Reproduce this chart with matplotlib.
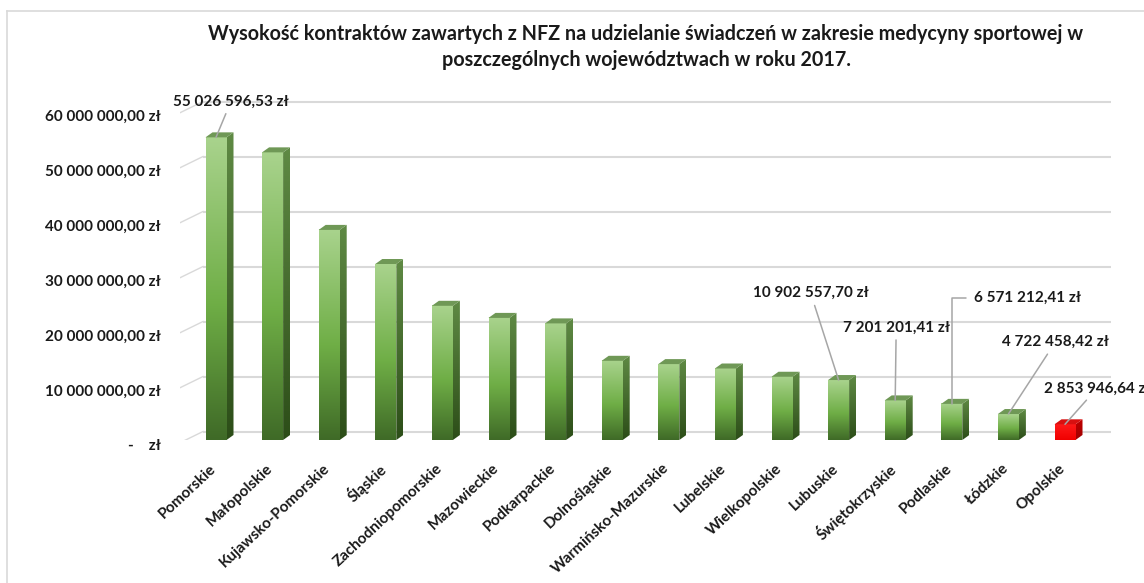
import numpy as np
import matplotlib
matplotlib.use("Agg")
import matplotlib.pyplot as plt
from matplotlib.colors import LinearSegmentedColormap
from matplotlib.patches import Polygon
from matplotlib.lines import Line2D
import matplotlib.transforms as mtransforms

plt.rcParams['font.family'] = ['Lato', 'DejaVu Sans']

title = ("Wysokość kontraktów zawartych z NFZ na udzielanie świadczeń w zakresie medycyny sportowej w\n"
         "poszczególnych województwach w roku 2017.")

regions = ["Pomorskie", "Małopolskie", "Kujawsko-Pomorskie", "Śląskie", "Zachodniopomorskie",
           "Mazowieckie", "Podkarpackie", "Dolnośląskie", "Warmińsko-Mazurskie", "Lubelskie",
           "Wielkopolskie", "Lubuskie", "Świętokrzyskie", "Podlaskie", "Łódzkie", "Opolskie"]
values = [55026596.53, 52300000, 38200000, 32000000, 24400000,
          22200000, 21200000, 14400000, 13800000, 13000000,
          11500000, 10902557.70, 7201201.41, 6571212.41, 4722458.42, 2853946.64]
yticks = [0, 10e6, 20e6, 30e6, 40e6, 50e6, 60e6]
labelled = {0: "55 026 596,53 zł", 11: "10 902 557,70 zł", 12: "7 201 201,41 zł",
            13: "6 571 212,41 zł", 14: "4 722 458,42 zł", 15: "2 853 946,64 zł"}

W, H = 1144, 583
fig = plt.figure(figsize=(W / 100, H / 100), dpi=100)
ax_l, ax_r, ax_b, ax_t = 180, 1111, 440, 90
ax = fig.add_axes([ax_l / W, (H - ax_b) / H, (ax_r - ax_l) / W, (ax_b - ax_t) / H])

px_cat = 56.6
c0 = 216
px_val = 5.5 / 1e6
xlim = ((ax_l - c0) / px_cat, (ax_r - c0) / px_cat)
ylim = (0, (ax_b - ax_t) / px_val)

# depth offsets
wall_dx, wall_dy = 23 / px_cat, 8.5 / px_val
bar_dx, bar_dy = 7 / px_cat, 5 / px_val
bw = 21 / px_cat

txt = '#1a1a1a'
gridc = '#d9d9d9'

# back-wall gridlines + diagonal side-wall ticks
for v in yticks:
    ax.plot([xlim[0] + wall_dx, xlim[1]], [v + wall_dy, v + wall_dy], color=gridc, lw=1.5, zorder=1,
            solid_capstyle='butt')
    ax.plot([xlim[0], xlim[0] + wall_dx], [v - 0.5e6, v + wall_dy], color=gridc, lw=1.0, zorder=1)

front_g = LinearSegmentedColormap.from_list('fg', [(0, '#3f6a27'), (0.45, '#6fae46'), (1, '#a9d38d')])
side_g = LinearSegmentedColormap.from_list('sg', [(0, '#2c4d18'), (1, '#5f8a44')])
red_front = LinearSegmentedColormap.from_list('rf', [(0, '#f00000'), (1, '#ff1a1a')])
red_side = LinearSegmentedColormap.from_list('rs', [(0, '#a00000'), (1, '#c00000')])

grad = np.linspace(0, 1, 256).reshape(-1, 1)
for i, v in enumerate(values):
    red = (i == len(values) - 1)
    x0, x1 = i - bw / 2, i + bw / 2
    z = 3 + i * 0.01
    ax.imshow(grad, extent=(x0, x1, 0, v), origin='lower', aspect='auto',
              cmap=red_front if red else front_g, interpolation='bicubic', zorder=z)
    side = Polygon([(x1, 0), (x1 + bar_dx, bar_dy), (x1 + bar_dx, v + bar_dy), (x1, v)],
                   closed=True, fc='none', ec='none', zorder=z)
    ax.add_patch(side)
    im = ax.imshow(grad, extent=(x1, x1 + bar_dx, 0, v + bar_dy), origin='lower', aspect='auto',
                   cmap=red_side if red else side_g, interpolation='bicubic', zorder=z)
    im.set_clip_path(side)
    top = Polygon([(x0, v), (x0 + bar_dx, v + bar_dy), (x1 + bar_dx, v + bar_dy), (x1, v)],
                  closed=True, fc='#d81010' if red else '#6f9856', ec='none', zorder=z)
    ax.add_patch(top)

ax.set_xlim(*xlim)
ax.set_ylim(*ylim)
for s in ax.spines.values():
    s.set_visible(False)
ax.set_facecolor('none')

fs = 11
ax.set_yticks(yticks)
def fmt(v):
    if v == 0:
        return "-    zł"
    s = f"{int(v):,}".replace(",", " ")
    return s + ",00 zł"
ax.set_yticklabels([fmt(v) for v in yticks], fontsize=fs, fontweight='bold', color=txt)
ax.tick_params(axis='y', length=0, pad=14)
shift = mtransforms.ScaledTranslation(0, -5 / 100, fig.dpi_scale_trans)
for lab in ax.get_yticklabels():
    lab.set_transform(lab.get_transform() + shift)

ax.set_xticks(range(len(regions)))
ax.set_xticklabels(regions, rotation=43, ha='right', va='center', rotation_mode='anchor',
                   fontsize=fs, fontweight='bold', color=txt)
ax.tick_params(axis='x', length=0, pad=19)
shiftx = mtransforms.ScaledTranslation(-2 / 100, 0, fig.dpi_scale_trans)
for lab in ax.get_xticklabels():
    lab.set_transform(lab.get_transform() + shiftx)

# data label offsets (pixels)
offsets = {0: (15, 36), 11: (-28, 87), 12: (1, 73), 13: (76, 106), 14: (47, 72), 15: (32, 36)}
for i, lbl in labelled.items():
    v = values[i]
    dx, dy = offsets[i]
    if i == 13:
        arrow = dict(arrowstyle='-', color='#a6a6a6', lw=1.1, shrinkA=4, shrinkB=0,
                     connectionstyle='angle,angleA=180,angleB=90,rad=0', relpos=(0, 0.5))
    else:
        arrow = dict(arrowstyle='-', color='#a6a6a6', lw=1.1, shrinkA=2, shrinkB=0)
    ax.annotate(lbl, xy=(i, v), xytext=(dx, dy), textcoords='offset pixels',
                ha='center', va='center', fontsize=fs, fontweight='bold', color=txt,
                arrowprops=arrow, annotation_clip=False, zorder=10)

fig.text(646 / W, 1 - 47 / H, title, ha='center', va='center', fontsize=14.2, fontweight='bold',
         color=txt, linespacing=1.35)

# chart frame
fig.add_artist(Line2D([7 / W, 7 / W], [0, 1 - 11 / H], transform=fig.transFigure, color='#d9d9d9', lw=1.2))
fig.add_artist(Line2D([7 / W, 1], [1 - 11 / H, 1 - 11 / H], transform=fig.transFigure, color='#d9d9d9', lw=1.2))

fig.savefig('out.png', dpi=100)
